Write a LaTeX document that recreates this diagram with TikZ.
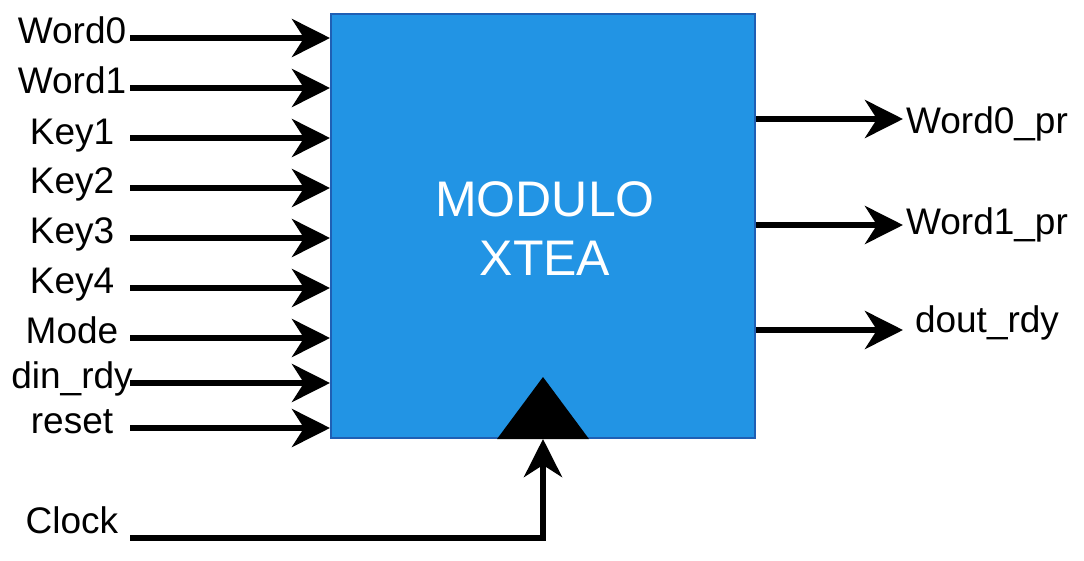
\documentclass[tikz,border=0pt]{standalone}
\usepackage{fontspec}
\setmainfont{Liberation Sans}
\usetikzlibrary{arrows.meta}
\definecolor{boxfill}{RGB}{34,148,228}
\definecolor{boxline}{RGB}{31,95,180}
\begin{document}
\begin{tikzpicture}[x=1pt,y=-1pt,
  lbl/.style={font=\fontsize{37}{44}\selectfont,anchor=base,inner sep=0pt},
  sig/.style={line width=6pt,-{Stealth[length=38pt,width=38pt,inset=12pt]}},
  blk/.style={draw=boxline,line width=2pt,fill=boxfill,minimum width=424pt,minimum height=424pt,inner sep=0pt}]
\useasboundingbox (0,0) rectangle (1084,560);
\node[blk] (xtea) at (543,226) {};
\node[text=white,font=\fontsize{50}{59}\selectfont,align=center,anchor=base,inner sep=0pt] (title) at (545,275) {MODULO\\XTEA};
% inputs
\foreach \n/\t/\y/\b in {w0/Word0/38/43, w1/Word1/88/93, k1/Key1/138/144, k2/Key2/188/193, k3/Key3/238/243, k4/Key4/288/293, md/Mode/338/343, dr/din\_rdy/383/388, rs/reset/428/433}{
  \node[lbl] (l\n) at (72,\b) {\t};
  \coordinate (s\n) at (130,\y);
  \draw[sig] (s\n) -- (xtea.west |- s\n);
}
% outputs
\foreach \n/\t/\y/\b in {o0/Word0\_pr/119/133, o1/Word1\_pr/225/234, o2/dout\_rdy/330/332}{
  \node[lbl] (l\n) at (987,\b) {\t};
  \coordinate (e\n) at (903,\y);
  \draw[sig] (xtea.east |- e\n) -- (e\n);
}
% clock
\coordinate (tri) at (543,439);
\fill (497,439) -- (543,377) -- (589,439) -- cycle;
\node[lbl] (lclk) at (72,533) {Clock};
\coordinate (sclk) at (130,538);
\draw[sig] (sclk) -| (tri);
\end{tikzpicture}
\end{document}
